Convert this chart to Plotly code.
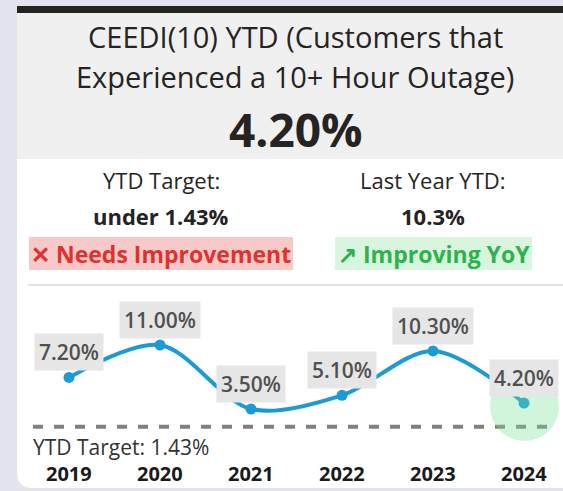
import plotly.graph_objects as go

# ---- data ----
years = [2019, 2020, 2021, 2022, 2023, 2024]
values = [7.20, 11.00, 3.50, 5.10, 10.30, 4.20]
value_labels = ["7.20%", "11.00%", "3.50%", "5.10%", "10.30%", "4.20%"]
target = 1.43
current_value = "4.20%"
target_text = "under 1.43%"
last_year_text = "10.3%"

W, H = 563, 491

# pixel helpers for layout (paper coords, margins are zero)
def px(x):
    return x / W

def py(y):
    return 1 - y / H

# axis ranges so that the plot area spans the whole page
x_first_px, x_step_px = 69, 91
y_anchor_val, y_anchor_px, y_px_per_unit = 11.0, 345, 8.533
x0_year = years[0]
x_range = [x0_year - x_first_px / x_step_px, x0_year + (W - x_first_px) / x_step_px]
y_range = [y_anchor_val - (H - y_anchor_px) / y_px_per_unit,
           y_anchor_val + y_anchor_px / y_px_per_unit]

def xpx(x):
    return x0_year + (x - x_first_px) / x_step_px

FONT = "Open Sans"
LINE_BLUE = "#1b9ad6"

fig = go.Figure()
fig.add_trace(go.Scatter(
    x=years, y=values, mode="lines+markers",
    line=dict(color=LINE_BLUE, width=4, shape="spline", smoothing=0.9),
    marker=dict(color=LINE_BLUE, size=11),
    hoverinfo="skip", showlegend=False,
))

shapes = []
# card background (rounded bottom-left corner)
shapes.append(dict(type="path", xref="paper", yref="paper", layer="below",
                   path=f"M {px(17)},{py(13)} L {px(563)},{py(13)} L {px(563)},{py(488)} "
                        f"L {px(33)},{py(488)} Q {px(17)},{py(488)} {px(17)},{py(472)} Z",
                   fillcolor="#ffffff", line=dict(width=0)))
# title area
shapes.append(dict(type="rect", xref="paper", yref="paper", layer="below",
                   x0=px(17), x1=px(563), y0=py(159), y1=py(13),
                   fillcolor="#f0f0f0", line=dict(width=0)))
# black top bar
shapes.append(dict(type="rect", xref="paper", yref="paper", layer="below",
                   x0=px(17), x1=px(563), y0=py(13), y1=py(6),
                   fillcolor="#252423", line=dict(width=0)))
# separator
shapes.append(dict(type="line", xref="paper", yref="paper", layer="below",
                   x0=px(28), x1=px(563), y0=py(285), y1=py(285),
                   line=dict(color="#e4e4e4", width=2)))
# status boxes
shapes.append(dict(type="rect", xref="paper", yref="paper", layer="below",
                   x0=px(29), x1=px(293), y0=py(270), y1=py(237),
                   fillcolor="#f8c9c9", line=dict(width=0)))
shapes.append(dict(type="rect", xref="paper", yref="paper", layer="below",
                   x0=px(335), x1=px(532), y0=py(270), y1=py(237),
                   fillcolor="#d8f5de", line=dict(width=0)))
# target dashed line
shapes.append(dict(type="line", xref="x", yref="y", layer="below",
                   x0=xpx(33), x1=xpx(550),
                   y0=target, y1=target,
                   line=dict(color="#808080", width=4, dash="10px,11px")))
# highlight circle on latest point
shapes.append(dict(type="circle", xref="paper", yref="paper", layer="above",
                   x0=px(490), x1=px(559), y0=py(441), y1=py(372),
                   fillcolor="rgba(120,225,150,0.35)", line=dict(width=0)))

ann = []
def txt(text, x, y, size, color="#252423", bold=False, xanchor="center", weight=None):
    f = dict(family=FONT, size=size, color=color)
    if weight:
        f["weight"] = weight
    ann.append(dict(text=f"<b>{text}</b>" if bold else text, xref="paper", yref="paper",
                    x=px(x), y=py(y), xanchor=xanchor, yanchor="middle", showarrow=False,
                    font=f))

txt("CEEDI(10) YTD (Customers that", 295, 37, 29)
txt("Experienced a 10+ Hour Outage)", 295, 76, 29)
txt(current_value, 295, 129, 46, bold=True)
txt("YTD Target:", 161, 180, 22)
txt("Last Year YTD:", 433, 180, 22)
txt(target_text, 161, 216, 22, bold=True)
txt(last_year_text, 433, 216, 22, bold=True)
txt("✕ Needs Improvement", 161, 254, 23, color="#e0312f", bold=True)
txt("↗ Improving YoY", 434, 254, 23, color="#2db24f", bold=True)
txt(f"YTD Target: {target:.2f}%", 31, 447, 21, color="#333333", xanchor="left")

for yr, v, lab in zip(years, values, value_labels):
    ann.append(dict(text=lab, x=yr, y=v, xref="x", yref="y", yshift=25,
                    showarrow=False, bgcolor="#e6e6e6", borderpad=4,
                    font=dict(family=FONT, size=21, color="#505050", weight=600)))
    ann.append(dict(text=f"<b>{yr}</b>", x=yr, y=py(473), xref="x", yref="paper",
                    showarrow=False, yanchor="middle",
                    font=dict(family=FONT, size=20, color="#1a1a1a")))

fig.update_layout(
    width=W, height=H, margin=dict(l=0, r=0, t=0, b=0),
    paper_bgcolor="#e4e4ee", plot_bgcolor="rgba(0,0,0,0)",
    xaxis=dict(range=x_range, visible=False, fixedrange=True),
    yaxis=dict(range=y_range, visible=False, fixedrange=True),
    shapes=shapes, annotations=ann, showlegend=False,
)

fig.write_html("out.html", config={"displayModeBar": False},
               post_script="document.body.style.margin='0px';"
                           "document.body.style.background='#e4e4ee';")
